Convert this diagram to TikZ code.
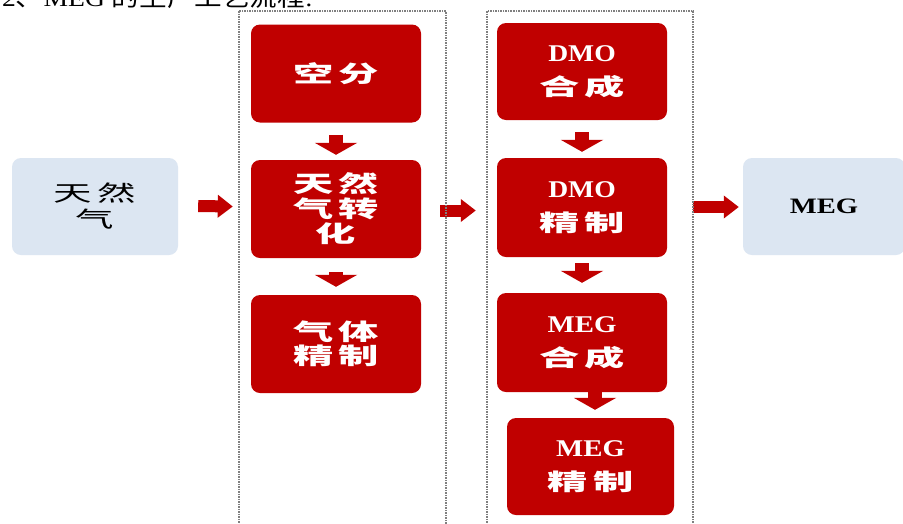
\documentclass[tikz,border=0pt]{standalone}
\usepackage{fontspec}
\usepackage{graphicx}
\setmainfont{Liberation Serif}
\newfontfamily\cjk{Noto Sans CJK SC}
\usetikzlibrary{arrows.meta}
\definecolor{boxred}{HTML}{C00000}
\definecolor{boxblue}{HTML}{DCE6F2}
\definecolor{framegray}{HTML}{7F7F7F}
\newcommand\cjktext[1]{\scalebox{1.75}[1]{\cjk #1}}
\newcommand\ls{\hspace{3pt}}
\newcommand\lattext[2][1.15]{\scalebox{#1}[1]{#2}}
\begin{document}
\begin{tikzpicture}[x=1pt,y=-1pt,
  redbox/.style={fill=boxred, rounded corners=9pt, minimum width=170pt, minimum height=98pt,
    text=white, font=\fontsize{23}{24}\selectfont\bfseries, align=center, inner sep=0pt},
  mixbox/.style={redbox, font=\fontsize{24}{34}\selectfont\bfseries},
  bluebox/.style={fill=boxblue, rounded corners=9pt, minimum height=97pt,
    text=black, align=center, inner sep=0pt},
  frame/.style={draw=framegray, line width=1.2pt, dash pattern=on 1.5pt off 1pt},
  rarrow/.style={draw=boxred, line width=12pt, -{Triangle[width=22pt,length=15pt]}},
  darrow/.style={draw=boxred, line width=14pt, -{Triangle[width=42pt,length=12pt]}}]
\useasboundingbox (0,0) rectangle (903,523);
\fill[white] (0,0) rectangle (903,523);

% title (cut off at the top, as in the reference)
\node[anchor=base west, inner sep=0pt] (title) at (2,6)
  {\scalebox{1.15}[1]{\fontsize{24}{24}\selectfont 2{\cjk 、}MEG {\cjk 的生产工艺流程}:}};

% boxes
\node[bluebox, minimum width=166pt, font=\fontsize{22}{25}\selectfont] (gas) at (95,206.5)
  {\raisebox{-2pt}{\cjktext{天\ls 然}}\\\raisebox{-3pt}{\cjktext{气}}};
\node[redbox] (kf) at (336,73.5) {\cjktext{空\ls 分}};
\node[redbox, font=\fontsize{23}{25}\selectfont\bfseries] (zhh) at (336,209)
  {\raisebox{-2pt}{\cjktext{天\ls 然}}\\\raisebox{-2pt}{\cjktext{气\ls 转}}\\\raisebox{-2pt}{\cjktext{化}}};
\node[redbox] (qt) at (336,344) {\cjktext{气\ls 体}\\\cjktext{精\ls 制}};
\node[mixbox, minimum height=97pt] (dmohc) at (582,71.5)
  {\lattext{DMO}\\\cjktext{\fontsize{23}{24}\selectfont 合\ls 成}};
\node[mixbox, minimum height=99pt] (dmojz) at (582,207.5)
  {\lattext{DMO}\\\cjktext{\fontsize{23}{24}\selectfont 精\ls 制}};
\node[mixbox, minimum height=99pt] (meghc) at (582,342.5)
  {\lattext[1.2]{MEG}\\\cjktext{\fontsize{23}{24}\selectfont 合\ls 成}};
\node[mixbox, minimum width=167pt, minimum height=97pt] (megjz) at (590.5,466.5)
  {\lattext[1.2]{MEG}\\\cjktext{\fontsize{23}{24}\selectfont 精\ls 制}};
\node[bluebox, minimum width=162pt, font=\fontsize{22}{26}\selectfont\bfseries] (meg) at (824,206.5)
  {\lattext[1.3]{MEG}};

% horizontal arrows
\draw[rarrow] ([xshift=20pt,yshift=0.5pt]gas.east) -- ([xshift=-18pt]gas.east -| zhh.west);
\draw[rarrow] ([xshift=19pt,yshift=-1.5pt]zhh.east) -- ([xshift=-21pt,yshift=-1.5pt]zhh.east -| dmojz.west);
\draw[rarrow] ([xshift=26pt,yshift=0.5pt]dmojz.east) -- ([xshift=-4pt,yshift=0.5pt]dmojz.east -| meg.west);

% vertical arrows
\draw[darrow] ([yshift=-12pt]kf.south) -- ([yshift=5pt]zhh.north);
\draw[darrow] ([yshift=-14pt]zhh.south) -- ([yshift=8pt]qt.north);
\draw[darrow] ([yshift=-12pt]dmohc.south) -- ([yshift=6pt]dmojz.north);
\draw[darrow] ([yshift=-6pt]dmojz.south) -- ([yshift=10pt]meghc.north);
\draw[darrow] ([xshift=13pt,yshift=2pt]meghc.south) -- ([xshift=4.5pt,yshift=8pt]megjz.north);

% dashed frames
\draw[frame] (239,11) rectangle (446,535);
\draw[frame] (487,11) rectangle (693,535);
\end{tikzpicture}
\end{document}
